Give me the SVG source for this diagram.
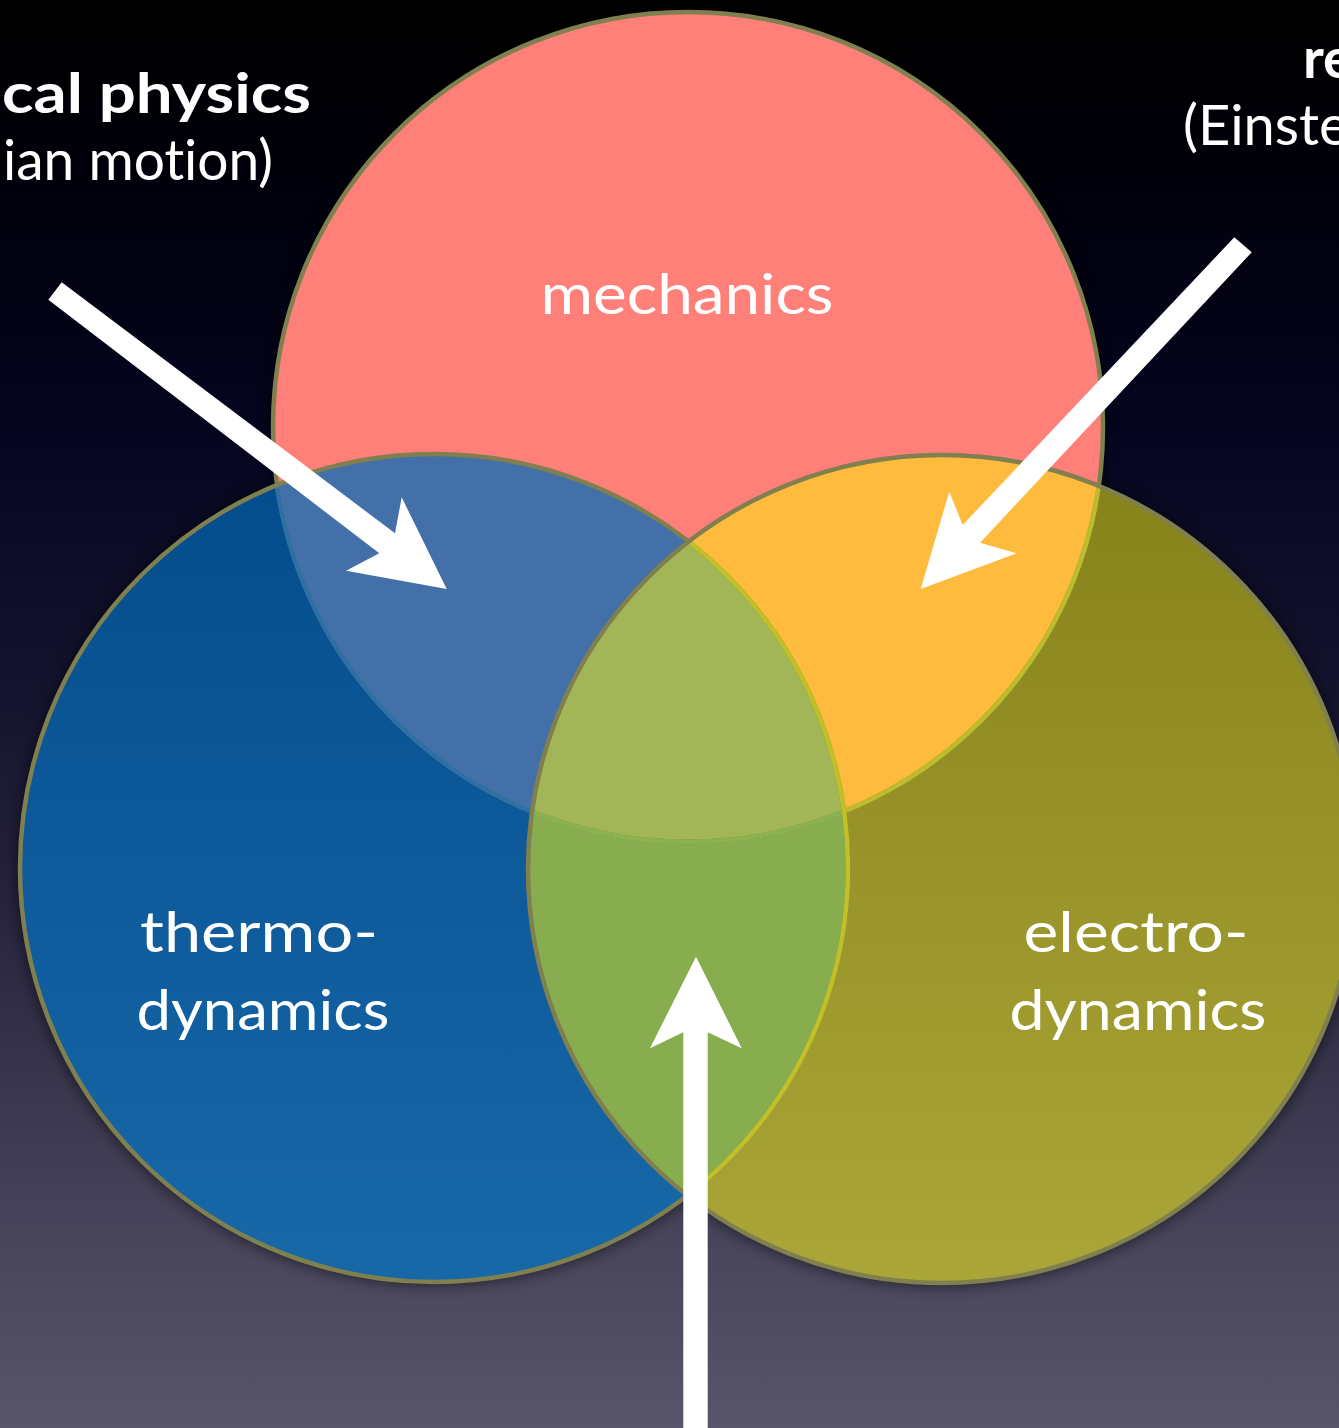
<svg xmlns="http://www.w3.org/2000/svg" width="1339" height="1428" viewBox="0 0 1339 1428">
<style>
  .lbl { font-family: Lato, "Open Sans", "Noto Sans", sans-serif; fill: #ffffff; font-size: 56px; font-variant-ligatures: none; font-feature-settings: "liga" 0, "clig" 0; }
  .bold { font-weight: bold; }
  .edge { fill: none; stroke-width: 4.5; }
  .gray { stroke: #7f7f50; }
  .arrow { fill: #ffffff; }
</style>
<defs>
  <linearGradient id="bg" x1="0" y1="0" x2="0" y2="1">
    <stop offset="0" stop-color="#000000"/>
    <stop offset="0.12" stop-color="#00000a"/>
    <stop offset="0.3" stop-color="#05051f"/>
    <stop offset="0.5" stop-color="#16152f"/>
    <stop offset="0.65" stop-color="#29263f"/>
    <stop offset="0.85" stop-color="#454259"/>
    <stop offset="1" stop-color="#58556b"/>
  </linearGradient>
  <linearGradient id="gBlue" x1="0" y1="0" x2="0" y2="1">
    <stop offset="0" stop-color="#044c8c"/>
    <stop offset="1" stop-color="#1868a8"/>
  </linearGradient>
  <linearGradient id="gOlive" x1="0" y1="0" x2="0" y2="1">
    <stop offset="0" stop-color="#86821a"/>
    <stop offset="1" stop-color="#aaa638"/>
  </linearGradient>
  <clipPath id="cR"><circle cx="688" cy="427" r="415"/></clipPath>
  <clipPath id="cB"><circle cx="434" cy="868" r="414"/></clipPath>
  <clipPath id="cO"><circle cx="942" cy="869" r="414"/></clipPath>
  <filter id="blur" x="-20%" y="-20%" width="140%" height="140%">
    <feGaussianBlur stdDeviation="7"/>
  </filter>
</defs>

<rect x="0" y="0" width="1339" height="1428" fill="url(#bg)"/>

<!-- soft shadow behind circles -->
<g filter="url(#blur)" fill="#000000" opacity="0.55">
  <circle cx="688" cy="427" r="418"/>
  <circle cx="434" cy="868" r="417"/>
  <circle cx="942" cy="869" r="417"/>
</g>

<!-- fills -->
<g id="node-mechanics">
  <circle cx="688" cy="427" r="415" fill="#ff7f79"/>
</g>
<g id="node-thermodynamics">
  <circle cx="434" cy="868" r="414" fill="url(#gBlue)"/>
</g>
<g id="node-electrodynamics">
  <circle cx="942" cy="869" r="414" fill="url(#gOlive)"/>
</g>
<g id="overlaps">
  <circle cx="688" cy="427" r="415" fill="#4370a8" clip-path="url(#cB)"/>
  <circle cx="688" cy="427" r="415" fill="#ffbb3d" clip-path="url(#cO)"/>
  <circle cx="434" cy="868" r="414" fill="#88ad4f" clip-path="url(#cO)"/>
  <g clip-path="url(#cB)">
    <circle cx="688" cy="427" r="415" fill="#a2b657" clip-path="url(#cO)"/>
  </g>
</g>

<!-- outlines -->
<g id="outlines">
  <circle class="edge gray" cx="688" cy="427" r="415"/>
  <circle class="edge" cx="688" cy="427" r="415" stroke="#2d6fa8" clip-path="url(#cB)"/>
  <circle class="edge" cx="688" cy="427" r="415" stroke="#bcbc2c" clip-path="url(#cO)"/>
  <g clip-path="url(#cB)">
    <circle class="edge" cx="688" cy="427" r="415" stroke="#8ab24e" clip-path="url(#cO)"/>
  </g>
  <circle class="edge gray" cx="434" cy="868" r="414"/>
  <circle class="edge" cx="434" cy="868" r="414" stroke="#c2c028" clip-path="url(#cO)"/>
  <circle class="edge gray" cx="942" cy="869" r="414"/>
</g>

<!-- node labels -->
<text class="lbl" x="687" y="314" text-anchor="middle" textLength="293" lengthAdjust="spacingAndGlyphs">mechanics</text>
<text class="lbl" x="259" y="952" text-anchor="middle" textLength="238" lengthAdjust="spacingAndGlyphs">thermo-</text>
<text class="lbl" x="263" y="1030" text-anchor="middle" textLength="253" lengthAdjust="spacingAndGlyphs">dynamics</text>
<text class="lbl" x="1136" y="952" text-anchor="middle" textLength="225" lengthAdjust="spacingAndGlyphs">electro-</text>
<text class="lbl" x="1138" y="1030" text-anchor="middle" textLength="257" lengthAdjust="spacingAndGlyphs">dynamics</text>

<!-- side labels (cut by the picture edge, as in the reference) -->
<g id="label-statistical">
  <text class="lbl bold" x="2" y="113" textLength="309" lengthAdjust="spacingAndGlyphs">cal physics</text>
  <text class="lbl" x="3" y="180" textLength="270" lengthAdjust="spacingAndGlyphs">ian motion)</text>
</g>
<g id="label-relativity">
  <text class="lbl bold" x="1303" y="78">re</text>
  <text class="lbl" x="1183" y="145">(Einste</text>
</g>

<!-- connectors -->
<g id="connectors">
  <polygon class="arrow" points="61.7,282.2 395,533.3 401.7,497.3 446.7,589 346,570.7 379.3,553.3 48.3,299.8"/>
  <polygon class="arrow" points="1234.3,237.3 1251.7,252.3 980,542.7 1016.7,553.3 920.7,589 949.3,491.7 962.7,525"/>
  <polygon class="arrow" points="683.3,1428 683.3,1032.3 650,1048.3 696,956.7 741.7,1048.3 707.7,1032.3 707.7,1428"/>
</g>
</svg>
